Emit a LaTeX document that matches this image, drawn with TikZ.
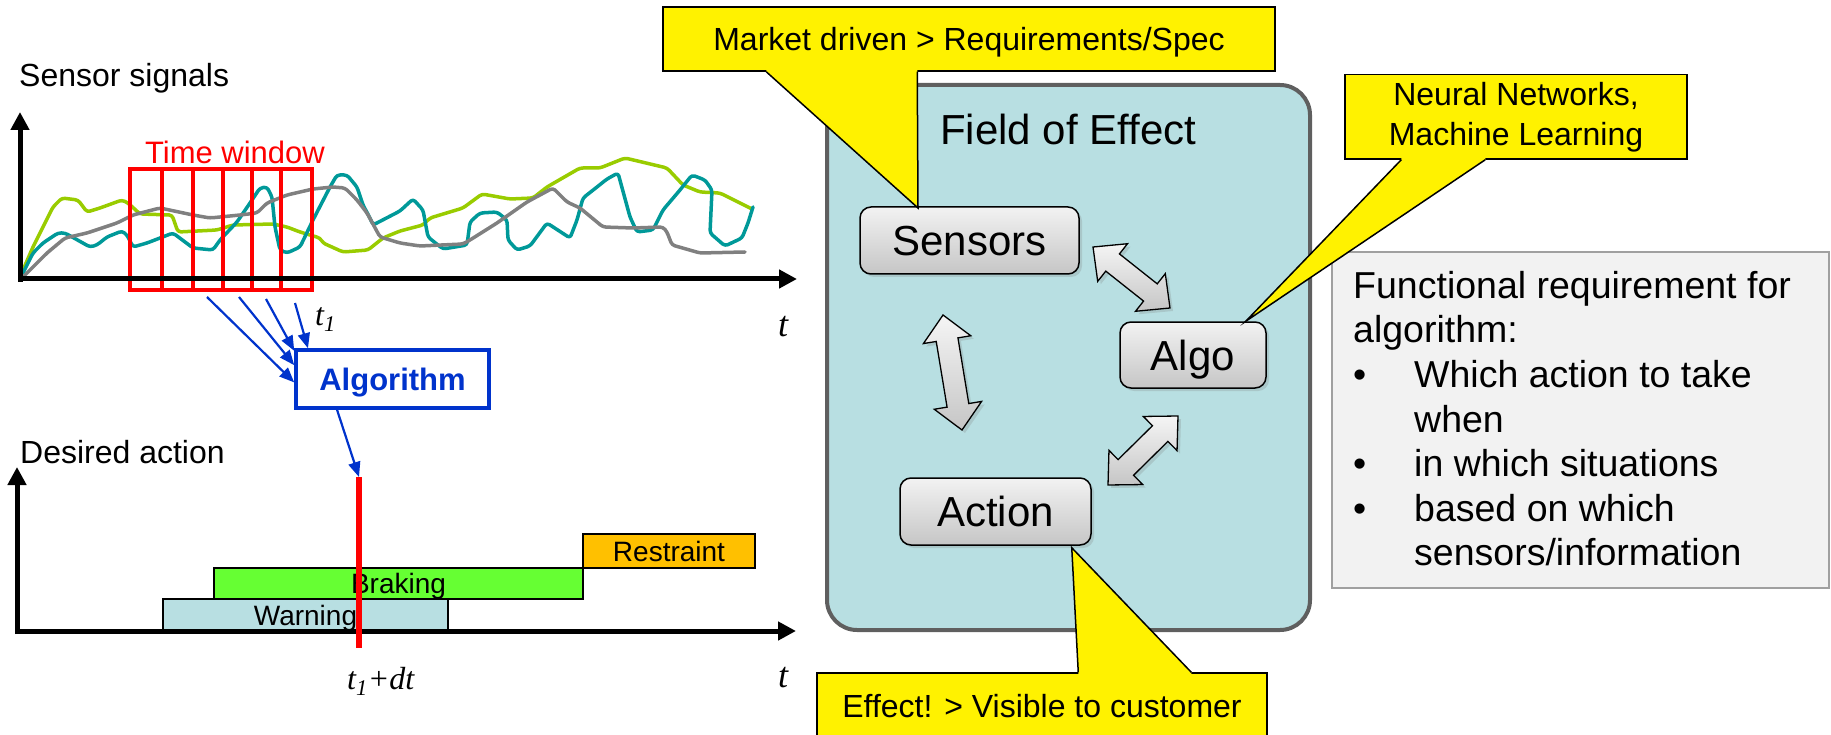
\documentclass[tikz,border=0pt]{standalone}
\usepackage{fontspec}
\setmainfont{Liberation Sans}
\newfontfamily\timesfont{Liberation Serif}
\usetikzlibrary{arrows.meta,calc,shadows}

\definecolor{sigLime}{RGB}{153,204,0}
\definecolor{sigTeal}{RGB}{0,153,153}
\definecolor{sigGray}{RGB}{128,128,128}
\definecolor{algBlue}{RGB}{0,51,204}
\definecolor{fieldFill}{RGB}{184,223,226}
\definecolor{fieldLine}{RGB}{95,95,95}
\definecolor{warnFill}{RGB}{184,223,226}
\definecolor{brakeFill}{RGB}{102,255,51}
\definecolor{restFill}{RGB}{255,192,0}
\definecolor{noteFill}{RGB}{242,242,242}
\definecolor{noteLine}{RGB}{160,160,160}

\newcommand\bul{\makebox[61pt][l]{\textbullet}}
\newcommand\ind{\hspace*{61pt}}

% fat double arrow between two named points
\newcommand\fatarrow[2]{%
  \path[blockarrow] let \p1=($(#2)-(#1)$), \n1={atan2(\y1,\x1)}, \n2={veclen(\x1,\y1)/2} in
    [shift={($(#1)!.5!(#2)$)}, rotate=\n1]
    (-\n2,0) -- (-\n2+25,24) -- (-\n2+25,11) -- (\n2-25,11) -- (\n2-25,24)
    -- (\n2,0) -- (\n2-25,-24) -- (\n2-25,-11) -- (-\n2+25,-11) -- (-\n2+25,-24) -- cycle;
}

\tikzset{
  plotlabel/.style={font=\fontsize{32}{38}\selectfont, anchor=base west, inner sep=0},
  axis/.style={line width=5pt, -{Triangle[length=18pt,width=18pt]}},
  signal/.style={line width=3.5pt, line join=round, line cap=round, rounded corners=3pt},
  window/.style={draw=red, line width=3.5pt},
  algbox/.style={draw=algBlue, line width=3.5pt, fill=white, text=algBlue, inner sep=0,
    font=\fontsize{31}{37}\selectfont\bfseries, text height=22pt, text depth=0pt},
  feed/.style={draw=algBlue, line width=2.2pt, -{Triangle[length=15pt,width=12pt]}},
  bar/.style={draw=black, line width=1.5pt, inner sep=0, font=\fontsize{28}{34}\selectfont,
    text height=20pt, text depth=0pt},
  tlabel/.style={font=\timesfont\itshape\fontsize{32}{38}\selectfont, anchor=base west, inner sep=0},
  field/.style={draw=fieldLine, line width=4pt, fill=fieldFill, rounded corners=30pt},
  block/.style={draw=black, line width=1.5pt, rounded corners=11pt, top color=gray!10,
    bottom color=gray!45, font=\fontsize{42}{48}\selectfont, text height=30pt, text depth=0pt,
    inner sep=0, drop shadow={opacity=.25, shadow xshift=3pt, shadow yshift=-3pt}},
  blockarrow/.style={draw=black, line width=1.3pt, top color=gray!8, bottom color=gray!45,
    drop shadow={opacity=.25, shadow xshift=3pt, shadow yshift=-3pt}},
  callout/.style={draw=black, line width=1.5pt, fill=yellow, inner sep=0,
    font=\fontsize{32}{40}\selectfont},
  callline/.style={draw=black, line width=1.5pt},
  note/.style={draw=noteLine, line width=1.5pt, fill=noteFill},
}

\begin{document}
\begin{tikzpicture}[x=1pt,y=-1pt]
\useasboundingbox (0,0) rectangle (1831,735);
\clip (0,0) rectangle (1831,735);

% sensor signals
\draw[signal, sigLime] (23,270) -- (33,247) -- (43,227) -- (53,207) -- (62,198) -- (78,200)
  -- (87,212) -- (100,208) -- (122,200) -- (128,203) -- (140,214) -- (172,215) -- (178,232)
  -- (217,230) -- (233,225) -- (273,224) -- (287,227) -- (300,232) -- (320,238) -- (323,243)
  -- (343,252) -- (368,250) -- (383,238) -- (400,231) -- (423,225) -- (430,218) -- (463,208)
  -- (482,194) -- (510,199) -- (533,198) -- (547,187) -- (580,168) -- (600,168) -- (625,158)
  -- (667,168) -- (683,185) -- (700,192) -- (720,193) -- (752,209);
\draw[signal, sigTeal] (23,273) -- (33,253) -- (43,243) -- (58,233) -- (65,233) -- (90,247)
  -- (97,245) -- (107,237) -- (122,231) -- (127,235) -- (133,247) -- (147,243) -- (173,233)
  -- (193,248) -- (213,250) -- (220,240) -- (237,222) -- (250,203) -- (260,188) -- (267,187)
  -- (272,197) -- (275,227) -- (280,250) -- (287,253) -- (300,247) -- (313,220) -- (330,187)
  -- (337,175) -- (347,175) -- (357,187) -- (363,205) -- (370,218) -- (373,225) -- (400,211)
  -- (413,199) -- (423,210) -- (428,237) -- (443,249) -- (467,245) -- (470,222) -- (480,213)
  -- (497,212) -- (507,220) -- (508,240) -- (517,250) -- (530,246) -- (547,223) -- (570,238)
  -- (577,220) -- (583,198) -- (597,187) -- (607,179) -- (618,173) -- (630,217) -- (637,232)
  -- (653,230) -- (663,210) -- (680,190) -- (692,175) -- (705,180) -- (712,190) -- (710,233)
  -- (725,246) -- (742,238) -- (748,223) -- (753,207);
\draw[signal, sigGray] (23,277) -- (33,267) -- (47,253) -- (65,238) -- (87,233) -- (117,223)
  -- (133,215) -- (160,208) -- (193,215) -- (210,218) -- (240,215) -- (257,213) -- (267,203)
  -- (287,195) -- (313,189) -- (333,187) -- (345,188) -- (357,200) -- (367,213) -- (380,237)
  -- (400,243) -- (420,246) -- (463,244) -- (470,240) -- (497,223) -- (527,202) -- (553,188)
  -- (567,202) -- (580,208) -- (603,227) -- (633,228) -- (663,227) -- (667,232) -- (672,245)
  -- (700,253) -- (745,252);

% time window
\draw[window] (130,169) rectangle (312,290);
\foreach \x in {162,193,223,252,281}
  \draw[window] (\x,169) -- (\x,290);
\node[font=\fontsize{31}{37}\selectfont, text=red, anchor=base, inner sep=0] (twlabel) at (235,164) {Time window};

% upper axes
\coordinate (o1) at (20,279);
\draw[axis] ($(o1)+(0,3)$) -- (20,112);
\draw[axis] ($(o1)+(-2,0)$) -- (797,279);
\node[plotlabel] (sigtitle) at (19,87) {Sensor signals};
\node[tlabel] (t1) at (315,325) {t\textsubscript{1}};
\node[tlabel, font=\timesfont\itshape\fontsize{36}{40}\selectfont] (tup) at (778,337) {t};

% algorithm
\node[algbox, minimum width=193pt, minimum height=58pt] (alg) at (392.5,379) {Algorithm};
\coordinate (w1) at (207,297);
\coordinate (w2) at (239,297);
\coordinate (w3) at (266,299);
\coordinate (w4) at (295,303);
\draw[feed] (w1) -- (alg.182);
\draw[feed] (w2) -- (alg.172);
\draw[feed] (w3) -- (alg.164);
\draw[feed] (w4) -- (alg.160);
\coordinate (cut) at (359,477);
\draw[feed] (alg.209) -- (cut);

% desired action
\node[bar, fill=warnFill, minimum width=285pt, minimum height=32pt] (warn) at (305.5,615) {Warning};
\node[bar, fill=brakeFill, minimum width=369pt, minimum height=31pt] (brake) at (398.5,583.5) {Braking};
\node[bar, fill=restFill, minimum width=172pt, minimum height=34pt] (rest) at (669,551) {Restraint};
\coordinate (o2) at (17,631);
\draw[axis] ($(o2)+(0,3)$) -- (17,467);
\draw[axis] ($(o2)+(-2,0)$) -- (796,631);
\draw[red, line width=6pt] (cut) -- (359,648);
\node[plotlabel] (acttitle) at (20,463) {Desired action};
\node[tlabel] (t1dt) at (347,689) {t\textsubscript{1}+dt};
\node[tlabel, font=\timesfont\itshape\fontsize{36}{40}\selectfont] (tdown) at (778,687) {t};

% field of effect
\node[field, minimum width=483pt, minimum height=545pt] (field) at (1068.5,357.5) {};
\node[font=\fontsize{42}{48}\selectfont, anchor=base west, inner sep=0] (fieldtitle) at (940,145) {Field of Effect};
\node[block, minimum width=219pt, minimum height=67pt] (sens) at (969.5,240.5) {Sensors};
\node[block, minimum width=146pt, minimum height=66pt] (algo) at (1193,355) {Algo};
\node[block, minimum width=191pt, minimum height=67pt] (act) at (995.5,511.5) {Action};
\coordinate (sa1) at (1093,247);
\coordinate (sa2) at (1170,308);
\coordinate (sc1) at (943,315);
\coordinate (sc2) at (962,430);
\coordinate (ac1) at (1108,485);
\coordinate (ac2) at (1178,416);
\fatarrow{sa1}{sa2}
\fatarrow{sc1}{sc2}
\fatarrow{ac1}{ac2}

% requirement note
\node[note, minimum width=497pt, minimum height=336pt] (req) at (1580.5,420) {};
\node[font=\fontsize{37.5}{44.6}\selectfont, align=left, anchor=north west, inner sep=0] (reqtext) at (1353,271)
  {Functional requirement for\\algorithm:\\\bul Which action to take\\\ind when\\\bul in which situations\\\bul based on which\\\ind sensors/information};

% callouts
\node[callout, minimum width=612pt, minimum height=64pt, text height=23pt, text depth=0pt] (mkt) at (969,39)
  {Market driven > Requirements/Spec};
\coordinate (mkttip) at (918,208);
\fill[yellow] ($(mkt.south west)+(104,0)$) -- (mkttip) -- ($(mkt.south west)+(255,0)$)
  -- ($(mkt.south west)+(255,-3)$) -- ($(mkt.south west)+(104,-3)$) -- cycle;
\draw[callline] ($(mkt.south west)+(104,0)$) -- (mkttip) -- ($(mkt.south west)+(255,0)$);

\node[callout, minimum width=342pt, minimum height=84.5pt, align=center] (neural) at (1516,116.75)
  {Neural Networks,\\Machine Learning};
\coordinate (neurtip) at ($(algo.north east)+(-21,0)$);
\fill[yellow] ($(neural.south west)+(57,0)$) -- (neurtip) -- ($(neural.south west)+(141,0)$)
  -- ($(neural.south west)+(141,-3)$) -- ($(neural.south west)+(57,-3)$) -- cycle;
\draw[callline] ($(neural.south west)+(57,0)$) -- (neurtip) -- ($(neural.south west)+(141,0)$);

\node[callout, minimum width=450pt, minimum height=65pt, text height=23pt, text depth=0pt] (effect) at (1042,705.5)
  {Effect! > Visible to customer};
\coordinate (efftip) at ($(act.south east)+(-20,2)$);
\fill[yellow] ($(effect.north west)+(262,0)$) -- (efftip) -- ($(effect.north west)+(375,0)$)
  -- ($(effect.north west)+(375,3)$) -- ($(effect.north west)+(262,3)$) -- cycle;
\draw[callline] ($(effect.north west)+(262,0)$) -- (efftip) -- ($(effect.north west)+(375,0)$);
\end{tikzpicture}
\end{document}
